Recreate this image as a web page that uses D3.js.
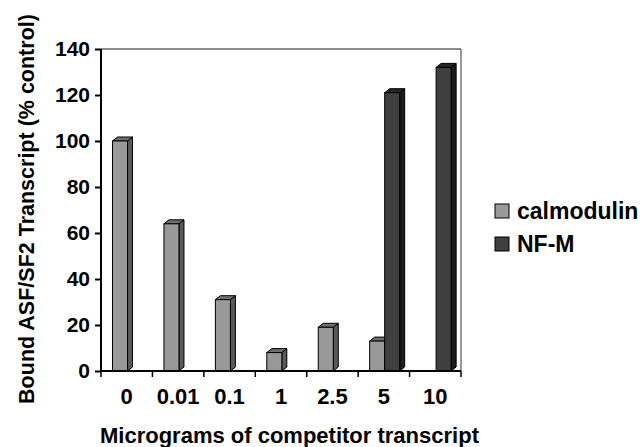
<!DOCTYPE html>
<html>
<head>
<meta charset="utf-8">
<script src="https://cdn.jsdelivr.net/npm/d3@7"></script>
<style>
  body { margin: 0; background: #fff; }
  text { font-family: "Liberation Sans", Arial, sans-serif; font-weight: bold; fill: #000; }
</style>
</head>
<body>
<div id="chart"></div>
<script>
// data
let doses = ["0", "0.01", "0.1", "1", "2.5", "5", "10"];
let calmodulin = [100, 64, 31, 8, 19, 13, null];
let nfm = [null, null, null, null, null, 121, 132];
let yTicks = [0, 20, 40, 60, 80, 100, 120, 140];
let seriesNames = ["calmodulin", "NF-M"];

let w = 644, h = 447;
let m = {top: 49, right: 183, bottom: 76, left: 101};

let svg = d3.select("#chart")
    .append("svg")
    .attr("width", w)
    .attr("height", h);

let x = d3.scaleBand()
    .domain(doses)
    .range([m.left, w - m.right]);

let inner = d3.scaleBand()
    .domain(seriesNames)
    .range([x.bandwidth() * 0.224, x.bandwidth() * 0.808]);

let y = d3.scaleLinear()
    .domain([0, 140])
    .range([h - m.bottom, m.top]);

let colors = {
    "calmodulin": {front: "#999999", side: "#595959", top: "#6e6e6e"},
    "NF-M": {front: "#404040", side: "#1c1c1c", top: "#262626"}
};
let dx = 5, dy = -4;

// frame top + right (thin grey)
svg.append("line")
    .attr("x1", m.left).attr("x2", w - m.right)
    .attr("y1", y(140)).attr("y2", y(140))
    .attr("stroke", "#666").attr("stroke-width", 1.5);
svg.append("line")
    .attr("x1", w - m.right).attr("x2", w - m.right)
    .attr("y1", y(140)).attr("y2", y(0))
    .attr("stroke", "#333").attr("stroke-width", 1);

// bars
let rows = [];
doses.forEach((d, i) => {
    rows.push({dose: d, series: "calmodulin", value: calmodulin[i]});
    rows.push({dose: d, series: "NF-M", value: nfm[i]});
});
rows = rows.filter(r => r.value !== null);

let bars = svg.append("g").selectAll("g")
    .data(rows)
    .enter()
    .append("g");

bars.each(function(d) {
    let g = d3.select(this);
    let x0 = x(d.dose) + inner(d.series);
    let x1 = x0 + inner.bandwidth();
    let y0 = y(0), y1 = y(d.value);
    let c = colors[d.series];
    // side
    g.append("polygon")
        .attr("points", [[x1, y0], [x1 + dx, y0 + dy], [x1 + dx, y1 + dy], [x1, y1]].join(" "))
        .attr("fill", c.side).attr("stroke", "#000").attr("stroke-width", 1);
    // top
    g.append("polygon")
        .attr("points", [[x0, y1], [x0 + dx, y1 + dy], [x1 + dx, y1 + dy], [x1, y1]].join(" "))
        .attr("fill", c.top).attr("stroke", "#000").attr("stroke-width", 1);
    // front
    g.append("rect")
        .attr("x", x0).attr("y", y1)
        .attr("width", x1 - x0).attr("height", y0 - y1)
        .attr("fill", c.front).attr("stroke", "#000").attr("stroke-width", 1);
});

// y axis
let yAxis = d3.axisLeft(y).tickValues(yTicks).tickSize(6).tickPadding(5);
let gy = svg.append("g")
    .attr("transform", "translate(" + m.left + ",0)")
    .call(yAxis);
gy.select(".domain").attr("stroke", "#000").attr("stroke-width", 2).attr("d", "M0," + y(0) + "V" + y(140));
gy.selectAll(".tick line").attr("stroke", "#000").attr("stroke-width", 2);
gy.selectAll(".tick text")
    .style("font-size", "21px")
    .style("font-family", "'Liberation Sans', Arial, sans-serif")
    .style("font-weight", "bold")
    .attr("fill", "#000");

// x axis: ticks at band boundaries
let gx = svg.append("g");
gx.append("line")
    .attr("x1", m.left - 1).attr("x2", w - m.right)
    .attr("y1", y(0)).attr("y2", y(0))
    .attr("stroke", "#000").attr("stroke-width", 2);
let bounds = doses.map(d => x(d)).concat([x(doses[doses.length - 1]) + x.bandwidth()]);
gx.selectAll(".xt")
    .data(bounds)
    .enter()
    .append("line")
    .attr("x1", d => d).attr("x2", d => d)
    .attr("y1", y(0)).attr("y2", y(0) + 6)
    .attr("stroke", "#000").attr("stroke-width", 1.5);
gx.selectAll(".xl")
    .data(doses)
    .enter()
    .append("text")
    .attr("x", d => x(d) + x.bandwidth() / 2)
    .attr("y", 404)
    .attr("text-anchor", "middle")
    .style("font-size", "22px")
    .text(d => d);

// axis titles
svg.append("text")
    .attr("x", 100)
    .attr("y", 443)
    .style("font-size", "22px")
    .text("Micrograms of competitor transcript");

svg.append("text")
    .attr("transform", "translate(34,209) rotate(-90)")
    .attr("text-anchor", "middle")
    .style("font-size", "21.5px")
    .text("Bound ASF/SF2 Transcript (% control)");

// legend
let legend = svg.append("g");
legend.selectAll("rect")
    .data(seriesNames)
    .enter()
    .append("rect")
    .attr("x", 495)
    .attr("y", (d, i) => 204 + i * 33)
    .attr("width", 14)
    .attr("height", 14)
    .attr("fill", d => colors[d].front)
    .attr("stroke", "#000")
    .attr("stroke-width", 1);
legend.selectAll("text")
    .data(seriesNames)
    .enter()
    .append("text")
    .attr("x", 517)
    .attr("y", (d, i) => 219 + i * 33)
    .style("font-size", "23px")
    .text(d => d);
</script>
</body>
</html>
